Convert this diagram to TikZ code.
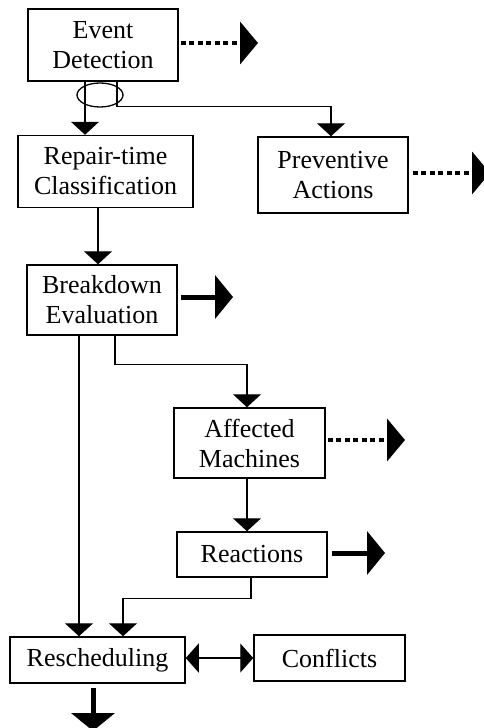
\documentclass[tikz,border=0pt]{standalone}
\usepackage{fontspec}
\setmainfont{Liberation Serif}
\usetikzlibrary{arrows.meta}
\begin{document}
\begin{tikzpicture}[x=1pt,y=-1pt,
  box/.style={draw,line width=1.5pt,align=center,inner sep=0pt,
    font=\fontsize{26}{30}\selectfont},
  conn/.style={line width=1.3pt,-{Triangle[length=13pt,width=28pt]}},
  both/.style={line width=1.3pt,{Triangle[length=13pt,width=29pt]}-{Triangle[length=13pt,width=29pt]}},
  dotarrow/.style={line width=4.5pt,dash pattern=on 5pt off 3.5pt,
    -{Triangle[length=18pt,width=42pt]}},
  boldarrow/.style={line width=5pt,-{Triangle[length=18pt,width=43pt]}}]
\useasboundingbox (0,0) rectangle (484,728);

% process boxes
\node[box,minimum width=150pt,minimum height=72pt] (ed) at (103,45) {Event\\Detection};
\node[box,minimum width=175pt,minimum height=72pt] (rc) at (105.5,171.5) {Repair-time\\Classification};
\node[box,minimum width=150pt,minimum height=76pt] (pa) at (333,175) {Preventive\\Actions};
\node[box,minimum width=150pt,minimum height=70pt] (be) at (102,300) {Breakdown\\Evaluation};
\node[box,minimum width=151pt,minimum height=70pt] (am) at (249.5,443) {Affected\\Machines};
\node[box,minimum width=150pt,minimum height=45pt] (re) at (252,554.5) {Reactions};
\node[box,minimum width=175pt,minimum height=46pt] (rs) at (97.5,660) {Rescheduling};
\node[box,minimum width=151pt,minimum height=46pt] (cf) at (329.5,658) {Conflicts};

% ellipse joining the two outgoing branches
\draw[line width=1.3pt] (100,95) ellipse [x radius=23pt,y radius=12pt];

% free ends of the outgoing arrows
\coordinate (edout) at (258,43);
\coordinate (paout) at (490,173);
\coordinate (beout) at (233,297);
\coordinate (amout) at (405,440);
\coordinate (reout) at (385,553);
\coordinate (rsout) at (93,731);

% flow connectors
\draw[conn] ([xshift=-18pt]ed.south) -- ([xshift=-18pt]ed.south |- rc.north);
\draw[conn] ([xshift=14pt]ed.south) -- ++(0,25) -| ([xshift=-2pt]pa.north);
\draw[conn] ([xshift=-7.5pt]rc.south) -- ([xshift=-7.5pt]rc.south |- be.north);
\draw[conn] ([xshift=-23pt]be.south) -- ([xshift=-23pt]be.south |- rs.north);
\draw[conn] ([xshift=13pt]be.south) -- ++(0,29) -| ([xshift=-2.5pt]am.north);
\draw[conn] ([xshift=-2.5pt]am.south) -- ([xshift=-2.5pt]am.south |- re.north);
\draw[conn] ([xshift=-1pt]re.south) -- ++(0,21) -| ([xshift=25.5pt]rs.north);
\draw[both] (cf.west -| rs.east) -- (cf.west);

% outgoing arrows
\draw[dotarrow] ([xshift=2pt]ed.east |- edout) -- (edout);
\draw[dotarrow] ([xshift=4pt]pa.east |- paout) -- (paout);
\draw[boldarrow] ([xshift=3pt]be.east |- beout) -- (beout);
\draw[dotarrow] ([xshift=2pt]am.east |- amout) -- (amout);
\draw[boldarrow] ([xshift=4pt]re.east |- reout) -- (reout);
\draw[boldarrow] ([yshift=-4pt]rsout |- rs.south) -- (rsout);
\end{tikzpicture}
\end{document}
